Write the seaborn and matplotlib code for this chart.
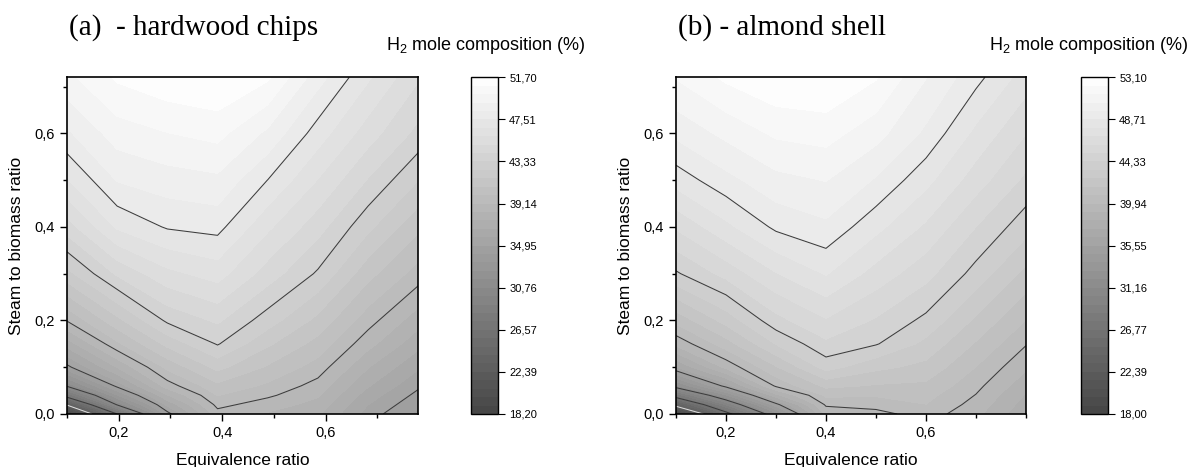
import numpy as np
import matplotlib
matplotlib.use("Agg")
import matplotlib.pyplot as plt
import seaborn as sns
from matplotlib.ticker import FixedLocator, FixedFormatter, MultipleLocator, FuncFormatter

# ---------------- data ----------------
steam_ratio = [0.00, 0.02, 0.04, 0.06, 0.10, 0.15, 0.20, 0.30, 0.40, 0.50, 0.60, 0.72]

er_hardwood = [0.100, 0.197, 0.294, 0.391, 0.488, 0.585, 0.682, 0.779]
h2_hardwood = [
    [18.2, 26.6, 34.6, 38.8, 38.2, 37.6, 35.4, 33.9],
    [22.6, 30.9, 36.0, 39.4, 38.7, 38.0, 35.8, 34.3],
    [27.6, 33.2, 37.4, 40.0, 39.3, 38.4, 36.2, 34.7],
    [30.9, 35.2, 38.7, 40.6, 39.8, 38.8, 36.7, 35.1],
    [34.7, 37.5, 40.2, 41.9, 40.7, 39.6, 37.5, 35.9],
    [37.0, 39.8, 41.9, 43.4, 41.8, 40.5, 38.6, 36.9],
    [39.2, 41.4, 43.5, 44.3, 42.9, 41.4, 39.5, 37.8],
    [42.2, 44.3, 45.6, 46.2, 44.6, 43.2, 41.1, 39.6],
    [44.6, 46.8, 47.6, 47.8, 46.0, 44.5, 42.7, 41.0],
    [46.6, 48.4, 48.8, 49.0, 47.5, 45.8, 44.1, 42.5],
    [48.2, 49.6, 50.0, 50.3, 49.0, 47.1, 45.4, 43.9],
    [49.8, 51.0, 51.5, 51.7, 51.0, 48.7, 46.8, 45.1],
]
cbar_range_hardwood = [18.20, 51.70]
cbar_labels_hardwood = ["18,20", "22,39", "26,57", "30,76", "34,95",
                        "39,14", "43,33", "47,51", "51,70"]

er_almond = [0.1, 0.2, 0.3, 0.4, 0.5, 0.6, 0.7, 0.8]
h2_almond = [
    [18.0, 26.0, 32.5, 39.2, 39.6, 40.4, 39.3, 37.5],
    [23.3, 29.5, 35.2, 40.1, 40.3, 40.8, 39.6, 37.8],
    [27.9, 32.8, 37.9, 41.0, 40.9, 41.1, 39.9, 38.1],
    [31.9, 35.9, 40.1, 41.9, 41.6, 41.5, 40.2, 38.5],
    [36.4, 39.3, 41.6, 43.8, 42.8, 42.3, 40.8, 39.2],
    [39.3, 41.3, 43.5, 45.0, 44.4, 43.2, 41.6, 40.0],
    [41.1, 42.9, 44.9, 46.0, 45.1, 44.1, 42.4, 40.8],
    [44.2, 45.5, 46.9, 47.9, 46.6, 45.5, 44.0, 42.3],
    [46.2, 47.6, 48.9, 49.4, 48.1, 46.8, 45.2, 43.8],
    [48.2, 49.3, 50.2, 50.5, 49.5, 48.1, 46.5, 45.0],
    [49.8, 50.7, 51.5, 51.7, 50.8, 49.4, 47.6, 46.1],
    [51.4, 52.4, 53.0, 53.1, 52.3, 50.5, 49.0, 47.4],
]
cbar_range_almond = [18.00, 53.10]
cbar_labels_almond = ["18,00", "22,39", "26,77", "31,16", "35,55",
                      "39,94", "44,33", "48,71", "53,10"]

titles = ["(a)  - hardwood chips", "(b) - almond shell"]
x_label = "Equivalence ratio"
y_label = "Steam to biomass ratio"
cbar_title = "H$_2$ mole composition (%)"

# ---------------- style ----------------
sns.set_style("ticks")
plt.rcParams["font.family"] = ["Liberation Sans", "DejaVu Sans"]
plt.rcParams["mathtext.default"] = "regular"
for k in ["text.color", "axes.labelcolor", "xtick.color", "ytick.color", "axes.edgecolor"]:
    plt.rcParams[k] = "black"

cmap = sns.blend_palette(["#454545", "#ffffff"], as_cmap=True)
comma = FuncFormatter(lambda v, p: f"{v:.1f}".replace(".", ","))

fig = plt.figure(figsize=(11.92, 4.67), dpi=100)


def panel(ax_rect, cax_rect, er, h2, crange, clabels, xmax, title, title_x, ctitle_x):
    ax = fig.add_axes(ax_rect)
    X, Y = np.meshgrid(er, steam_ratio)
    Z = np.array(h2)
    vmin, vmax = crange
    fill_levels = np.linspace(vmin, vmax, 41)
    cf = ax.contourf(X, Y, Z, levels=fill_levels, cmap=cmap, vmin=vmin, vmax=vmax)
    line_levels = np.linspace(vmin, vmax, 9)[1:-1]
    ax.contour(X, Y, Z, levels=line_levels,
               colors=["#dcdcdc"] + ["#3c3c3c"] * 6, linewidths=0.75)
    ax.set_xlim(0.1, xmax)
    ax.set_ylim(0, 0.72)
    ax.xaxis.set_major_locator(FixedLocator([0.2, 0.4, 0.6]))
    ax.xaxis.set_minor_locator(MultipleLocator(0.1))
    ax.yaxis.set_major_locator(FixedLocator([0.0, 0.2, 0.4, 0.6]))
    ax.yaxis.set_minor_locator(MultipleLocator(0.1))
    ax.xaxis.set_major_formatter(comma)
    ax.yaxis.set_major_formatter(comma)
    ax.tick_params(which="major", length=5, width=1, labelsize=10.5, pad=4, color="black")
    ax.tick_params(which="minor", length=3, width=1, color="black")
    for s in ax.spines.values():
        s.set_linewidth(1.2)
        s.set_color("black")
    ax.set_xlabel(x_label, fontsize=12.5, labelpad=9)
    ax.set_ylabel(y_label, fontsize=12.5, labelpad=7)

    cax = fig.add_axes(cax_rect)
    cb = fig.colorbar(cf, cax=cax)
    ticks = np.linspace(vmin, vmax, 9)
    cb.ax.yaxis.set_major_locator(FixedLocator(ticks))
    cb.ax.yaxis.set_major_formatter(FixedFormatter(clabels))
    cb.ax.yaxis.set_minor_locator(FixedLocator([]))
    cb.ax.tick_params(length=5, width=0.8, labelsize=8, pad=3, color="black")
    cb.outline.set_linewidth(1.0)
    cb.outline.set_edgecolor("black")

    fig.text(title_x, 0.925, title, family=["Liberation Serif", "DejaVu Serif"],
             fontsize=21, ha="left", va="baseline")
    fig.text(ctitle_x, 0.893, cbar_title, fontsize=13, ha="right", va="baseline")


panel([0.0562, 0.1135, 0.2947, 0.721], [0.3951, 0.1135, 0.0227, 0.721],
      er_hardwood, h2_hardwood, cbar_range_hardwood, cbar_labels_hardwood,
      0.779, titles[0], 0.058, 0.491)
panel([0.5671, 0.1135, 0.2936, 0.721], [0.9069, 0.1135, 0.0227, 0.721],
      er_almond, h2_almond, cbar_range_almond, cbar_labels_almond,
      0.8, titles[1], 0.569, 0.997)

fig.savefig("out.png", dpi=100)
